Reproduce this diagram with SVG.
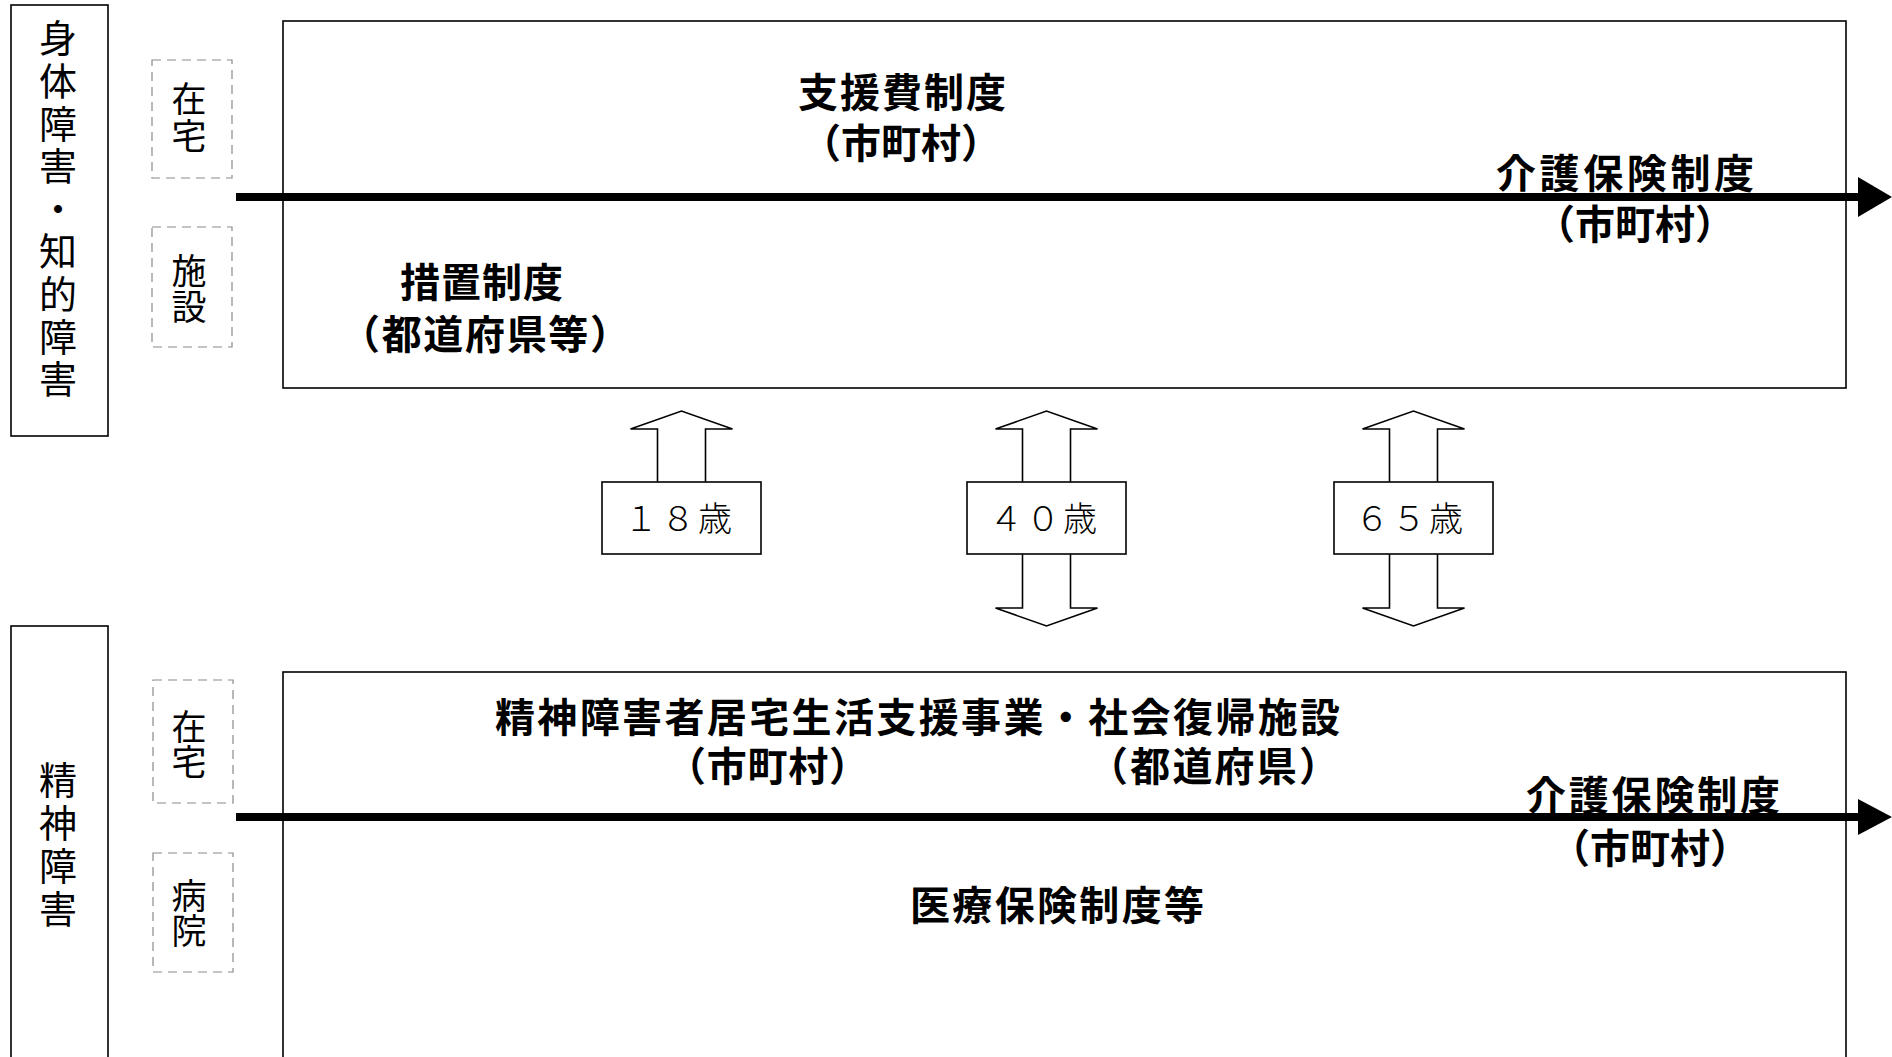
<svg xmlns="http://www.w3.org/2000/svg" width="1892" height="1057" viewBox="0 0 1892 1057">
<style>
.box{fill:none;stroke:#000;stroke-width:1.6}
.dash{fill:none;stroke:#8a8a8a;stroke-width:1.2;stroke-dasharray:9 6}
.lbl{font-family:"Noto Sans CJK JP","Noto Sans CJK SC",sans-serif;font-size:38px;fill:#000;writing-mode:vertical-rl}
.sm{font-family:"Noto Sans CJK JP","Noto Sans CJK SC",sans-serif;font-size:35px;fill:#000;writing-mode:vertical-rl}
.t{font-family:"Noto Sans CJK JP","Noto Sans CJK SC",sans-serif;font-size:40px;font-weight:700;fill:#000}
.age{font-family:"Noto Sans CJK JP","Noto Sans CJK SC",sans-serif;font-size:34px;font-weight:300;fill:#000}
.blk{fill:#fff;stroke:#000;stroke-width:1.6;stroke-linejoin:miter}
.heavy{stroke:#000;stroke-width:8;fill:none}
.head{fill:#000}
</style>
<rect width="1892" height="1057" fill="#fff"/>

<g id="node-left-top">
<rect class="box" x="11" y="5" width="97" height="431"/>
<text class="lbl" x="58" y="19" style="letter-spacing:4.6px">身体障害・知的障害</text>
</g>

<g id="node-left-bottom">
<rect class="box" x="11" y="626" width="97" height="440"/>
<text class="lbl" x="58" y="761" style="letter-spacing:5px">精神障害</text>
</g>

<g id="node-zaitaku-top">
<rect class="dash" x="152" y="60" width="80" height="118"/>
<text class="sm" x="189" y="81" style="letter-spacing:2px">在宅</text>
</g>
<g id="node-shisetsu">
<rect class="dash" x="152" y="227" width="80" height="120"/>
<text class="sm" x="189" y="253" style="letter-spacing:1px">施設</text>
</g>
<g id="node-zaitaku-bottom">
<rect class="dash" x="153" y="680" width="80" height="123"/>
<text class="sm" x="189" y="709">在宅</text>
</g>
<g id="node-byoin">
<rect class="dash" x="153" y="853" width="80" height="119"/>
<text class="sm" x="189" y="878">病院</text>
</g>

<g id="node-top-main">
<rect class="box" x="283" y="21" width="1563" height="367"/>
<text class="t" x="798" y="107" textLength="208" lengthAdjust="spacing">支援費制度</text>
<text class="t" x="801" y="158" textLength="200" lengthAdjust="spacing">（市町村）</text>
<text class="t" x="400" y="297" textLength="163" lengthAdjust="spacing">措置制度</text>
<text class="t" x="340" y="349" textLength="290" lengthAdjust="spacing">（都道府県等）</text>
</g>

<g id="node-bottom-main">
<rect class="box" x="283" y="672" width="1563" height="400"/>
<text class="t" x="495" y="732" textLength="845" lengthAdjust="spacing">精神障害者居宅生活支援事業・社会復帰施設</text>
<text class="t" x="666" y="781" textLength="203" lengthAdjust="spacing">（市町村）</text>
<text class="t" x="1088" y="781" textLength="251" lengthAdjust="spacing">（都道府県）</text>
<text class="t" x="910" y="920" textLength="294" lengthAdjust="spacing">医療保険制度等</text>
</g>

<g id="connectors">
<line class="heavy" x1="236" y1="197" x2="1860" y2="197"/>
<polygon class="head" points="1858,177 1892,197 1858,217"/>
<line class="heavy" x1="236" y1="817" x2="1860" y2="817"/>
<polygon class="head" points="1858,799 1892,817 1858,835"/>
<path class="blk" d="M657.5,482 V429 H630.5 L681.5,411 L732.5,429 H705.5 V482"/>
<path class="blk" d="M1022.5,482 V429 H995.5 L1046.5,411 L1097.5,429 H1070.5 V482"/>
<path class="blk" d="M1022.5,554 V608 H995.5 L1046.5,626 L1097.5,608 H1070.5 V554"/>
<path class="blk" d="M1389.5,482 V429 H1362.5 L1413.5,411 L1464.5,429 H1437.5 V482"/>
<path class="blk" d="M1389.5,554 V608 H1362.5 L1413.5,626 L1464.5,608 H1437.5 V554"/>
</g>

<g id="node-kaigo-top">
<text class="t" x="1496" y="188" textLength="258" lengthAdjust="spacing">介護保険制度</text>
<text class="t" x="1535" y="239" textLength="200" lengthAdjust="spacing">（市町村）</text>
</g>
<g id="node-kaigo-bottom">
<text class="t" x="1526" y="810" textLength="254" lengthAdjust="spacing">介護保険制度</text>
<text class="t" x="1550" y="863" textLength="200" lengthAdjust="spacing">（市町村）</text>
</g>

<g id="node-age18">
<rect class="box" x="602" y="482" width="159" height="72" fill="#fff"/>
<text class="age" x="624" y="531" textLength="108" lengthAdjust="spacing">１８歳</text>
</g>
<g id="node-age40">
<rect class="box" x="967" y="482" width="159" height="72" fill="#fff"/>
<text class="age" x="989" y="531" textLength="108" lengthAdjust="spacing">４０歳</text>
</g>
<g id="node-age65">
<rect class="box" x="1334" y="482" width="159" height="72" fill="#fff"/>
<text class="age" x="1355" y="531" textLength="108" lengthAdjust="spacing">６５歳</text>
</g>
</svg>
